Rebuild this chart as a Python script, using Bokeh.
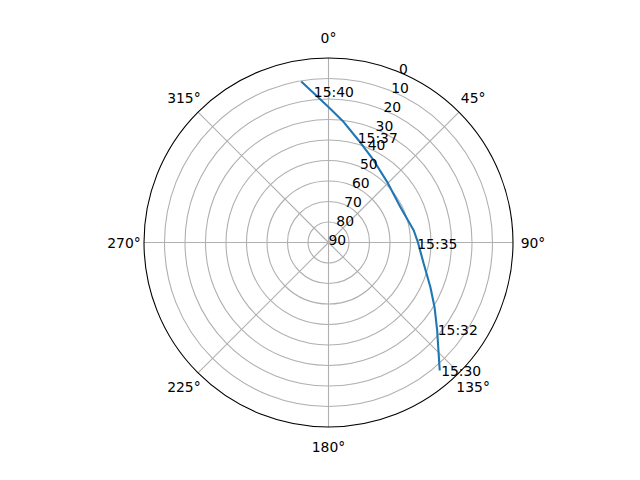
import numpy as np
from bokeh.plotting import figure
from bokeh.models import Range1d
from bokeh.core.properties import value
from bokeh.embed import file_html
from bokeh.resources import INLINE

# ---- data (azimuth deg, elevation deg) ----
track_az = [139.0, 135.3, 129.0, 121.4, 113.7, 102.6, 89.8, 82.0, 63.9,
            44.2, 28.9, 16.5, 7.2, 0.1, 350.4]
track_el = [7.3, 13.6, 21.8, 29.4, 35.7, 42.4, 46.4, 48.0, 50.9,
            48.9, 44.3, 38.1, 30.8, 24.0, 10.3]

time_labels = ["15:30", "15:32", "15:35", "15:37", "15:40"]
time_az = [138.4, 128.4, 90.8, 16.1, 354.8]
time_el = [6.5, 21.4, 46.2, 36.8, 16.4]

theta_ticks = [0, 45, 90, 135, 180, 225, 270, 315]
theta_labels = ["0°", "45°", "90°", "135°", "180°", "225°", "270°", "315°"]
r_ticks = [0, 10, 20, 30, 40, 50, 60, 70, 80, 90]
r_labels = ["0", "10", "20", "30", "40", "50", "60", "70", "80", "90"]
r_label_angle = 22.5

# ---- helpers: polar (az clockwise from north, r = 90 - elevation) ----
def to_xy(az, el):
    az = np.radians(np.asarray(az, dtype=float))
    r = 90.0 - np.asarray(el, dtype=float)
    return r * np.sin(az), r * np.cos(az)

W, H = 624, 464
scale = 2.05  # px per degree
cx, cy = 328.0, 242.0

p = figure(width=W, height=H, output_backend="svg", toolbar_location=None,
           x_range=Range1d(-cx / scale, (W - cx) / scale),
           y_range=Range1d(-(H - cy) / scale, cy / scale),
           min_border=0, min_border_left=0, min_border_right=0,
           min_border_top=0, min_border_bottom=0)
p.axis.visible = False
p.xgrid.visible = False
p.ygrid.visible = False
p.outline_line_color = None
p.background_fill_color = "white"
p.border_fill_color = "white"

FONT = value("DejaVu Sans")
FS = "13.9px"
GRID = "#b0b0b0"

# grid circles (elevation 80..10)
ring_els = [e for e in r_ticks if 0 < e < 90]
p.circle(x=[0] * len(ring_els), y=[0] * len(ring_els),
         radius=[90 - e for e in ring_els], fill_color=None,
         line_color=GRID, line_width=1.1)
# spokes
sx, sy = to_xy(theta_ticks, [0] * len(theta_ticks))
p.segment(x0=[0] * len(theta_ticks), y0=[0] * len(theta_ticks), x1=sx, y1=sy,
          line_color=GRID, line_width=1.1)
# outer spine
p.circle(x=[0], y=[0], radius=[90], fill_color=None, line_color="black",
         line_width=1.1)

# track
tx, ty = to_xy(track_az, track_el)
p.line(tx, ty, line_color="#1f77b4", line_width=2.1)

# theta labels
lab_r = 90 + 20 / scale
ang = np.radians(theta_ticks)
p.text(x=lab_r * np.sin(ang), y=lab_r * np.cos(ang), text=theta_labels,
       text_font=FONT, text_font_size=FS, text_align="center",
       text_baseline="middle", text_color="black")

# radial labels
rx, ry = to_xy([r_label_angle] * len(r_ticks), r_ticks)
p.text(x=rx, y=ry, text=r_labels, text_font=FONT, text_font_size=FS,
       text_align="left", text_baseline="alphabetic", x_offset=0, y_offset=-3,
       text_color="black")

# time labels
lx, ly = to_xy(time_az, time_el)
p.text(x=lx, y=ly, text=time_labels, text_font=FONT, text_font_size=FS,
       text_align="left", text_baseline="alphabetic", x_offset=-1,
       text_color="black")

open("out.html", "w").write(file_html(p, INLINE))
